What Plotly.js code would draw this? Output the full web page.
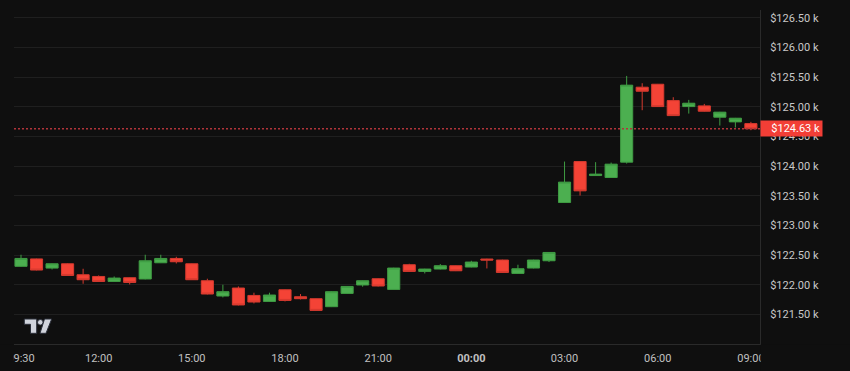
<!DOCTYPE html>
<html><head><meta charset="utf-8">
<script src="https://cdn.plot.ly/plotly-3.0.1.min.js"></script>
<style>html,body{margin:0;padding:0;background:#0f0f0f;overflow:hidden}#chart{width:850px;height:371px;}</style>
</head><body><div id="chart"></div>
<script>
const times = [
 '2025-10-06 09:30','2025-10-06 10:00','2025-10-06 10:30','2025-10-06 11:00','2025-10-06 11:30',
 '2025-10-06 12:00','2025-10-06 12:30','2025-10-06 13:00','2025-10-06 13:30','2025-10-06 14:00',
 '2025-10-06 14:30','2025-10-06 15:00','2025-10-06 15:30','2025-10-06 16:00','2025-10-06 16:30',
 '2025-10-06 17:00','2025-10-06 17:30','2025-10-06 18:00','2025-10-06 18:30','2025-10-06 19:00',
 '2025-10-06 19:30','2025-10-06 20:00','2025-10-06 20:30','2025-10-06 21:00','2025-10-06 21:30',
 '2025-10-06 22:00','2025-10-06 22:30','2025-10-06 23:00','2025-10-06 23:30','2025-10-07 00:00',
 '2025-10-07 00:30','2025-10-07 01:00','2025-10-07 01:30','2025-10-07 02:00','2025-10-07 02:30',
 '2025-10-07 03:00','2025-10-07 03:30','2025-10-07 04:00','2025-10-07 04:30','2025-10-07 05:00',
 '2025-10-07 05:30','2025-10-07 06:00','2025-10-07 06:30','2025-10-07 07:00','2025-10-07 07:30',
 '2025-10-07 08:00','2025-10-07 08:30','2025-10-07 09:00'
];
const openP  = [122310,122435,122280,122353,122168,122139,122055,122118,122096,122370,122443,122353,122067,121809,121944,121819,121718,121915,121797,121764,121629,121853,121995,122101,121920,122337,122224,122264,122320,122298,122433,122416,122190,122281,122404,123386,124077,123841,123808,124067,125331,125381,125105,125004,125016,124825,124746,124717];
const highP  = [122505,122440,122358,122360,122269,122156,122139,122123,122505,122505,122471,122358,122101,122000,121971,121865,121865,121920,121843,121770,121888,121978,122072,122106,122286,122353,122269,122348,122325,122404,122438,122421,122337,122421,122551,124077,124083,124067,124060,125521,125398,125386,125162,125117,125049,124915,124813,124746];
const lowP   = [122300,122241,122257,122151,122016,122050,122050,122005,122090,122365,122358,122079,121836,121786,121651,121684,121713,121718,121752,121561,121623,121848,121966,121971,121915,122219,122190,122258,122230,122292,122274,122202,122185,122275,122382,123380,123504,123835,123803,124043,124943,124999,124847,124886,124920,124684,124650,124606];
const closeP = [122443,122247,122353,122156,122084,122055,122112,122038,122404,122443,122387,122084,121843,121882,121658,121708,121826,121735,121764,121567,121882,121971,122067,121978,122281,122224,122264,122320,122235,122382,122416,122207,122269,122416,122544,123730,123583,123865,124033,125365,125263,125004,124852,125061,124926,124910,124808,124630];

const xTickTimes  = ['2025-10-06 09:30','2025-10-06 12:00','2025-10-06 15:00','2025-10-06 18:00','2025-10-06 21:00','2025-10-07 00:00','2025-10-07 03:00','2025-10-07 06:00','2025-10-07 09:00'];
const xTickLabels = ['09:30','12:00','15:00','18:00','21:00','<b>00:00</b>','03:00','06:00','09:00'];
const yTickValues = [121500,122000,122500,123000,123500,124000,124500,125000,125500,126000,126500];
const yTickLabels = yTickValues.map(v => '$' + (v/1000).toFixed(2) + ' k');
const lastPrice = closeP[closeP.length-1];
const lastLabel = '$' + (lastPrice/1000).toFixed(2) + ' k';

const UP = '#4caf50', DOWN = '#f44336', BG = '#0f0f0f';

const trace = {
  type: 'candlestick', x: times, open: openP, high: highP, low: lowP, close: closeP,
  increasing: {line: {color: '#3f9c43', width: 1}, fillcolor: UP},
  decreasing: {line: {color: '#d63a2f', width: 1}, fillcolor: DOWN},
  whiskerwidth: 0, hoverinfo: 'skip'
};

// TradingView-like logo (paper coords)
const px = v => (v - 14) / 746, py = v => (344 - v) / 334;
const logoT = `M ${px(24.3)} ${py(319)} L ${px(36.7)} ${py(319)} L ${px(36.7)} ${py(333.3)} L ${px(30.5)} ${py(333.3)} L ${px(30.5)} ${py(324.3)} L ${px(24.3)} ${py(324.3)} Z`;
const logoS = `M ${px(44.5)} ${py(319)} L ${px(51.7)} ${py(319)} L ${px(46)} ${py(333.3)} L ${px(40)} ${py(333.3)} Z`;

const layout = {
  width: 850, height: 371,
  paper_bgcolor: BG, plot_bgcolor: BG,
  margin: {l: 14, r: 90, t: 10, b: 27},
  showlegend: false, boxgap: 0.22, boxgroupgap: 0,
  font: {family: 'Roboto, "DejaVu Sans", sans-serif', size: 11, color: '#c5c5c5'},
  xaxis: {
    type: 'date', range: ['2025-10-06 09:16:29', '2025-10-07 09:17:35'],
    rangeslider: {visible: false}, showgrid: false, zeroline: false,
    showline: true, linecolor: '#2a2a2a', linewidth: 1,
    tickmode: 'array', tickvals: xTickTimes, ticktext: xTickLabels,
    ticks: '', tickfont: {size: 11, color: '#c0c0c0'}, ticklabelstandoff: 4
  },
  yaxis: {
    side: 'right', range: [121000, 126633], fixedrange: true,
    tickmode: 'array', tickvals: yTickValues, ticktext: yTickLabels,
    showgrid: true, gridcolor: '#1f1f1f', gridwidth: 1, zeroline: false,
    showline: true, linecolor: '#2a2a2a', linewidth: 1,
    ticks: '', ticklabelstandoff: 7, tickfont: {size: 11, color: '#c8c8c8'}
  },
  shapes: [
    {type: 'line', xref: 'paper', x0: 0, x1: 1, yref: 'y', y0: lastPrice, y1: lastPrice,
     line: {color: '#b0343a', width: 1.5, dash: '2px,2px'}, layer: 'above'},
    {type: 'rect', xref: 'paper', yref: 'paper', x0: -0.03, x1: -0.0013, y0: -0.12, y1: -0.002,
     fillcolor: BG, line: {width: 0}, layer: 'above'},
    {type: 'rect', xref: 'paper', yref: 'paper', x0: 1.0008, x1: 1.2, y0: -0.12, y1: -0.002,
     fillcolor: BG, line: {width: 0}, layer: 'above'},
    {type: 'path', xref: 'paper', yref: 'paper', path: logoT, fillcolor: '#d1d4dc', line: {color: '#2a2e39', width: 1}, layer: 'above'},
    {type: 'circle', xref: 'paper', yref: 'paper', x0: px(37.5), x1: px(43.1), y0: py(325.1), y1: py(319.5), fillcolor: '#d1d4dc', line: {color: '#2a2e39', width: 1}, layer: 'above'},
    {type: 'path', xref: 'paper', yref: 'paper', path: logoS, fillcolor: '#d1d4dc', line: {color: '#2a2e39', width: 1}, layer: 'above'}
  ],
  annotations: [
    {xref: 'paper', x: 1, xanchor: 'left', yref: 'y', y: lastPrice, yanchor: 'middle',
     text: lastLabel, showarrow: false, bgcolor: '#f23e36', borderpad: 2,
     width: 57, height: 11, align: 'right', font: {size: 11, color: '#ffffff'}}
  ]
};

Plotly.newPlot('chart', [trace], layout, {displayModeBar: false, staticPlot: true});
</script>
</body></html>
